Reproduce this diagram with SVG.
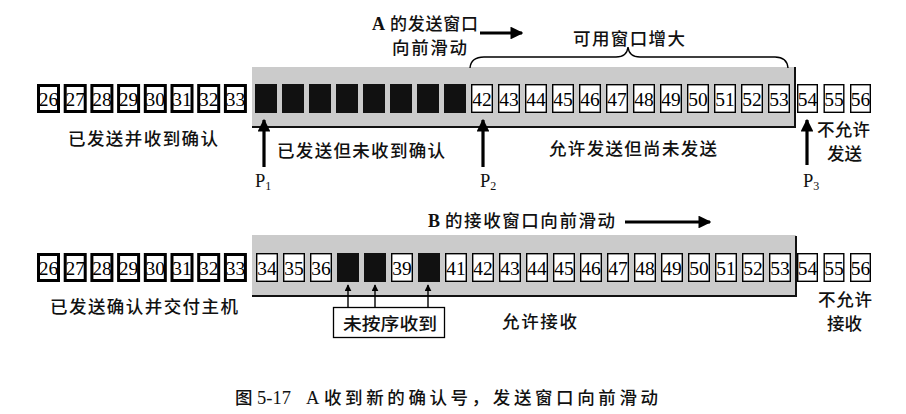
<svg xmlns="http://www.w3.org/2000/svg" width="906" height="414" viewBox="0 0 906 414">
<defs>
<style>
.heavy{fill:#fff;stroke:#000;stroke-width:3}
.thin{fill:#fff;stroke:#000;stroke-width:1.4}
.blk{fill:#111}
.win{fill:#cbcbcb}
.edge{fill:none;stroke:#111;stroke-width:2}
.num{font-family:"Liberation Serif",serif;font-size:19.5px;text-anchor:middle;fill:#000}
.lbl{font-family:"Noto Sans CJK SC",sans-serif;font-size:17.5px;font-weight:500;fill:#111}
.ser{font-family:"Liberation Serif","Noto Sans CJK SC",serif;fill:#111}
.thick{stroke:#000;stroke-width:3.2;fill:none}
.fine{stroke:#000;stroke-width:1.4;fill:none}
</style>
<marker id="bigHead" viewBox="0 0 10 10" refX="9" refY="5" markerWidth="4" markerHeight="4" markerUnits="strokeWidth" orient="auto">
<path d="M0,0 L10,5 L0,10 z" fill="#000"/>
</marker>
<marker id="smallHead" viewBox="0 0 10 10" refX="9" refY="5" markerWidth="5" markerHeight="5" markerUnits="strokeWidth" orient="auto">
<path d="M0,0 L10,5 L0,10 z" fill="#000"/>
</marker>
</defs>
<rect width="906" height="414" fill="#fff"/>

<!-- windows -->
<g id="sendWindow">
<rect class="win" x="252" y="67" width="543" height="60"/>
<path class="edge" d="M252,127 H795 V67"/>
</g>
<g id="recvWindow">
<rect class="win" x="252" y="235" width="544" height="61"/>
<path class="edge" d="M252,296 H796 V236"/>
</g>

<!-- top row -->
<g id="top26"><rect class="heavy" x="38.5" y="85.5" width="20" height="26"/><text class="num" x="48.5" y="105.5">26</text></g>
<g id="top27"><rect class="heavy" x="65.2" y="85.5" width="20" height="26"/><text class="num" x="75.2" y="105.5">27</text></g>
<g id="top28"><rect class="heavy" x="91.9" y="85.5" width="20" height="26"/><text class="num" x="101.9" y="105.5">28</text></g>
<g id="top29"><rect class="heavy" x="118.6" y="85.5" width="20" height="26"/><text class="num" x="128.6" y="105.5">29</text></g>
<g id="top30"><rect class="heavy" x="145.3" y="85.5" width="20" height="26"/><text class="num" x="155.3" y="105.5">30</text></g>
<g id="top31"><rect class="heavy" x="172" y="85.5" width="20" height="26"/><text class="num" x="182" y="105.5">31</text></g>
<g id="top32"><rect class="heavy" x="198.7" y="85.5" width="20" height="26"/><text class="num" x="208.7" y="105.5">32</text></g>
<g id="top33"><rect class="heavy" x="225.4" y="85.5" width="20" height="26"/><text class="num" x="235.4" y="105.5">33</text></g>
<g id="top34"><rect class="blk" x="255" y="84" width="22" height="29"/></g>
<g id="top35"><rect class="blk" x="282" y="84" width="22" height="29"/></g>
<g id="top36"><rect class="blk" x="309" y="84" width="22" height="29"/></g>
<g id="top37"><rect class="blk" x="336" y="84" width="22" height="29"/></g>
<g id="top38"><rect class="blk" x="363" y="84" width="22" height="29"/></g>
<g id="top39"><rect class="blk" x="390" y="84" width="22" height="29"/></g>
<g id="top40"><rect class="blk" x="417" y="84" width="22" height="29"/></g>
<g id="top41"><rect class="blk" x="444" y="84" width="22" height="29"/></g>
<g id="top42"><rect class="thin" x="471.7" y="84.7" width="20.6" height="27.6"/><text class="num" x="482" y="105.5">42</text></g>
<g id="top43"><rect class="thin" x="498.7" y="84.7" width="20.6" height="27.6"/><text class="num" x="509" y="105.5">43</text></g>
<g id="top44"><rect class="thin" x="525.7" y="84.7" width="20.6" height="27.6"/><text class="num" x="536" y="105.5">44</text></g>
<g id="top45"><rect class="thin" x="552.7" y="84.7" width="20.6" height="27.6"/><text class="num" x="563" y="105.5">45</text></g>
<g id="top46"><rect class="thin" x="579.7" y="84.7" width="20.6" height="27.6"/><text class="num" x="590" y="105.5">46</text></g>
<g id="top47"><rect class="thin" x="606.7" y="84.7" width="20.6" height="27.6"/><text class="num" x="617" y="105.5">47</text></g>
<g id="top48"><rect class="thin" x="633.7" y="84.7" width="20.6" height="27.6"/><text class="num" x="644" y="105.5">48</text></g>
<g id="top49"><rect class="thin" x="660.7" y="84.7" width="20.6" height="27.6"/><text class="num" x="671" y="105.5">49</text></g>
<g id="top50"><rect class="thin" x="687.7" y="84.7" width="20.6" height="27.6"/><text class="num" x="698" y="105.5">50</text></g>
<g id="top51"><rect class="thin" x="714.7" y="84.7" width="20.6" height="27.6"/><text class="num" x="725" y="105.5">51</text></g>
<g id="top52"><rect class="thin" x="741.7" y="84.7" width="20.6" height="27.6"/><text class="num" x="752" y="105.5">52</text></g>
<g id="top53"><rect class="thin" x="768.7" y="84.7" width="20.6" height="27.6"/><text class="num" x="779" y="105.5">53</text></g>
<g id="top54"><rect class="thin" x="797.7" y="84.7" width="19.6" height="27.6"/><text class="num" x="807.5" y="105.5">54</text></g>
<g id="top55"><rect class="thin" x="824.2" y="84.7" width="19.6" height="27.6"/><text class="num" x="834" y="105.5">55</text></g>
<g id="top56"><rect class="thin" x="850.7" y="84.7" width="19.6" height="27.6"/><text class="num" x="860.5" y="105.5">56</text></g>

<!-- bottom row -->
<g id="bot26"><rect class="heavy" x="38.5" y="254.5" width="20" height="26"/><text class="num" x="48.5" y="274.5">26</text></g>
<g id="bot27"><rect class="heavy" x="65.2" y="254.5" width="20" height="26"/><text class="num" x="75.2" y="274.5">27</text></g>
<g id="bot28"><rect class="heavy" x="91.9" y="254.5" width="20" height="26"/><text class="num" x="101.9" y="274.5">28</text></g>
<g id="bot29"><rect class="heavy" x="118.6" y="254.5" width="20" height="26"/><text class="num" x="128.6" y="274.5">29</text></g>
<g id="bot30"><rect class="heavy" x="145.3" y="254.5" width="20" height="26"/><text class="num" x="155.3" y="274.5">30</text></g>
<g id="bot31"><rect class="heavy" x="172" y="254.5" width="20" height="26"/><text class="num" x="182" y="274.5">31</text></g>
<g id="bot32"><rect class="heavy" x="198.7" y="254.5" width="20" height="26"/><text class="num" x="208.7" y="274.5">32</text></g>
<g id="bot33"><rect class="heavy" x="225.4" y="254.5" width="20" height="26"/><text class="num" x="235.4" y="274.5">33</text></g>
<g id="bot34"><rect class="thin" x="256.7" y="253.7" width="20.6" height="27.6"/><text class="num" x="267" y="274.5">34</text></g>
<g id="bot35"><rect class="thin" x="283.7" y="253.7" width="20.6" height="27.6"/><text class="num" x="294" y="274.5">35</text></g>
<g id="bot36"><rect class="thin" x="310.7" y="253.7" width="20.6" height="27.6"/><text class="num" x="321" y="274.5">36</text></g>
<g id="bot37"><rect class="blk" x="337" y="253" width="22" height="29"/></g>
<g id="bot38"><rect class="blk" x="364" y="253" width="22" height="29"/></g>
<g id="bot39"><rect class="thin" x="391.7" y="253.7" width="20.6" height="27.6"/><text class="num" x="402" y="274.5">39</text></g>
<g id="bot40"><rect class="blk" x="418" y="253" width="22" height="29"/></g>
<g id="bot41"><rect class="thin" x="445.7" y="253.7" width="20.6" height="27.6"/><text class="num" x="456" y="274.5">41</text></g>
<g id="bot42"><rect class="thin" x="472.7" y="253.7" width="20.6" height="27.6"/><text class="num" x="483" y="274.5">42</text></g>
<g id="bot43"><rect class="thin" x="499.7" y="253.7" width="20.6" height="27.6"/><text class="num" x="510" y="274.5">43</text></g>
<g id="bot44"><rect class="thin" x="526.7" y="253.7" width="20.6" height="27.6"/><text class="num" x="537" y="274.5">44</text></g>
<g id="bot45"><rect class="thin" x="553.7" y="253.7" width="20.6" height="27.6"/><text class="num" x="564" y="274.5">45</text></g>
<g id="bot46"><rect class="thin" x="580.7" y="253.7" width="20.6" height="27.6"/><text class="num" x="591" y="274.5">46</text></g>
<g id="bot47"><rect class="thin" x="607.7" y="253.7" width="20.6" height="27.6"/><text class="num" x="618" y="274.5">47</text></g>
<g id="bot48"><rect class="thin" x="634.7" y="253.7" width="20.6" height="27.6"/><text class="num" x="645" y="274.5">48</text></g>
<g id="bot49"><rect class="thin" x="661.7" y="253.7" width="20.6" height="27.6"/><text class="num" x="672" y="274.5">49</text></g>
<g id="bot50"><rect class="thin" x="688.7" y="253.7" width="20.6" height="27.6"/><text class="num" x="699" y="274.5">50</text></g>
<g id="bot51"><rect class="thin" x="715.7" y="253.7" width="20.6" height="27.6"/><text class="num" x="726" y="274.5">51</text></g>
<g id="bot52"><rect class="thin" x="742.7" y="253.7" width="20.6" height="27.6"/><text class="num" x="753" y="274.5">52</text></g>
<g id="bot53"><rect class="thin" x="769.7" y="253.7" width="20.6" height="27.6"/><text class="num" x="780" y="274.5">53</text></g>
<g id="bot54"><rect class="thin" x="797.7" y="253.7" width="19.6" height="27.6"/><text class="num" x="807.5" y="274.5">54</text></g>
<g id="bot55"><rect class="thin" x="824.2" y="253.7" width="19.6" height="27.6"/><text class="num" x="834" y="274.5">55</text></g>
<g id="bot56"><rect class="thin" x="850.7" y="253.7" width="19.6" height="27.6"/><text class="num" x="860.5" y="274.5">56</text></g>

<!-- label box -->
<g id="outOfOrder">
<rect x="333.5" y="307.5" width="111" height="30" fill="#fff" stroke="#000" stroke-width="1.3"/>
<text class="lbl" x="343" y="330" textLength="94" lengthAdjust="spacingAndGlyphs">未按序收到</text>
</g>

<!-- connectors -->
<g id="connectors">
<line class="thick" x1="264" y1="167" x2="264" y2="120" marker-end="url(#bigHead)"/>
<line class="thick" x1="483" y1="167" x2="483" y2="120" marker-end="url(#bigHead)"/>
<line class="thick" x1="807" y1="165" x2="807" y2="120" marker-end="url(#bigHead)"/>
<line class="thick" x1="480" y1="33" x2="522" y2="33" marker-end="url(#bigHead)"/>
<line class="thick" x1="625" y1="222" x2="710" y2="222" marker-end="url(#bigHead)"/>
<line class="fine" x1="348" y1="307" x2="348" y2="285" marker-end="url(#smallHead)"/>
<line class="fine" x1="375" y1="307" x2="375" y2="285" marker-end="url(#smallHead)"/>
<line class="fine" x1="428" y1="307" x2="428" y2="285" marker-end="url(#smallHead)"/>
<path class="fine" d="M470,68 Q471,57 484,57 H616 Q627,57 628,47 Q629,57 640,57 H775 Q787,57 788,68"/>
</g>

<!-- labels -->
<g id="labels">
<text class="ser" x="372" y="30" font-size="18" font-weight="bold">A<tspan font-family="Noto Sans CJK SC" font-weight="500" font-size="17" x="390" textLength="88" lengthAdjust="spacing">的发送窗口</tspan></text>
<text class="lbl" x="392" y="54" font-size="17" textLength="75" lengthAdjust="spacing">向前滑动</text>
<text class="lbl" x="573" y="45" textLength="112" lengthAdjust="spacing">可用窗口增大</text>
<text class="lbl" x="68" y="145" textLength="150" lengthAdjust="spacing">已发送并收到确认</text>
<text class="lbl" x="277" y="157" textLength="168" lengthAdjust="spacing">已发送但未收到确认</text>
<text class="lbl" x="549" y="155" textLength="168" lengthAdjust="spacing">允许发送但尚未发送</text>
<text class="lbl" x="817" y="136" font-size="16" textLength="53" lengthAdjust="spacing">不允许</text>
<text class="lbl" x="827" y="159.5" font-size="16" textLength="35" lengthAdjust="spacing">发送</text>
<text class="ser" x="255" y="187" font-size="18.5">P<tspan font-size="12" dy="3">1</tspan></text>
<text class="ser" x="480" y="187" font-size="18.5">P<tspan font-size="12" dy="3">2</tspan></text>
<text class="ser" x="803" y="187" font-size="18.5">P<tspan font-size="12" dy="3">3</tspan></text>
<text class="ser" x="428" y="227" font-size="18" font-weight="bold">B<tspan font-family="Noto Sans CJK SC" font-weight="500" font-size="17.5" x="445" textLength="170" lengthAdjust="spacing">的接收窗口向前滑动</tspan></text>
<text class="lbl" x="50" y="313" textLength="188" lengthAdjust="spacing">已发送确认并交付主机</text>
<text class="lbl" x="502" y="328" textLength="75" lengthAdjust="spacing">允许接收</text>
<text class="lbl" x="818" y="306" font-size="16" textLength="54" lengthAdjust="spacing">不允许</text>
<text class="lbl" x="827" y="329.5" font-size="16" textLength="35" lengthAdjust="spacing">接收</text>
</g>

<g id="caption">
<text class="lbl" x="235" y="404" font-size="17.5">图</text>
<text class="ser" x="257" y="404" font-size="18.5">5-17</text>
<text class="ser" x="306" y="404" font-size="18.5">A</text>
<text class="lbl" x="324" y="404" font-size="17.5" textLength="334" lengthAdjust="spacing">收到新的确认号，发送窗口向前滑动</text>
</g>
</svg>
